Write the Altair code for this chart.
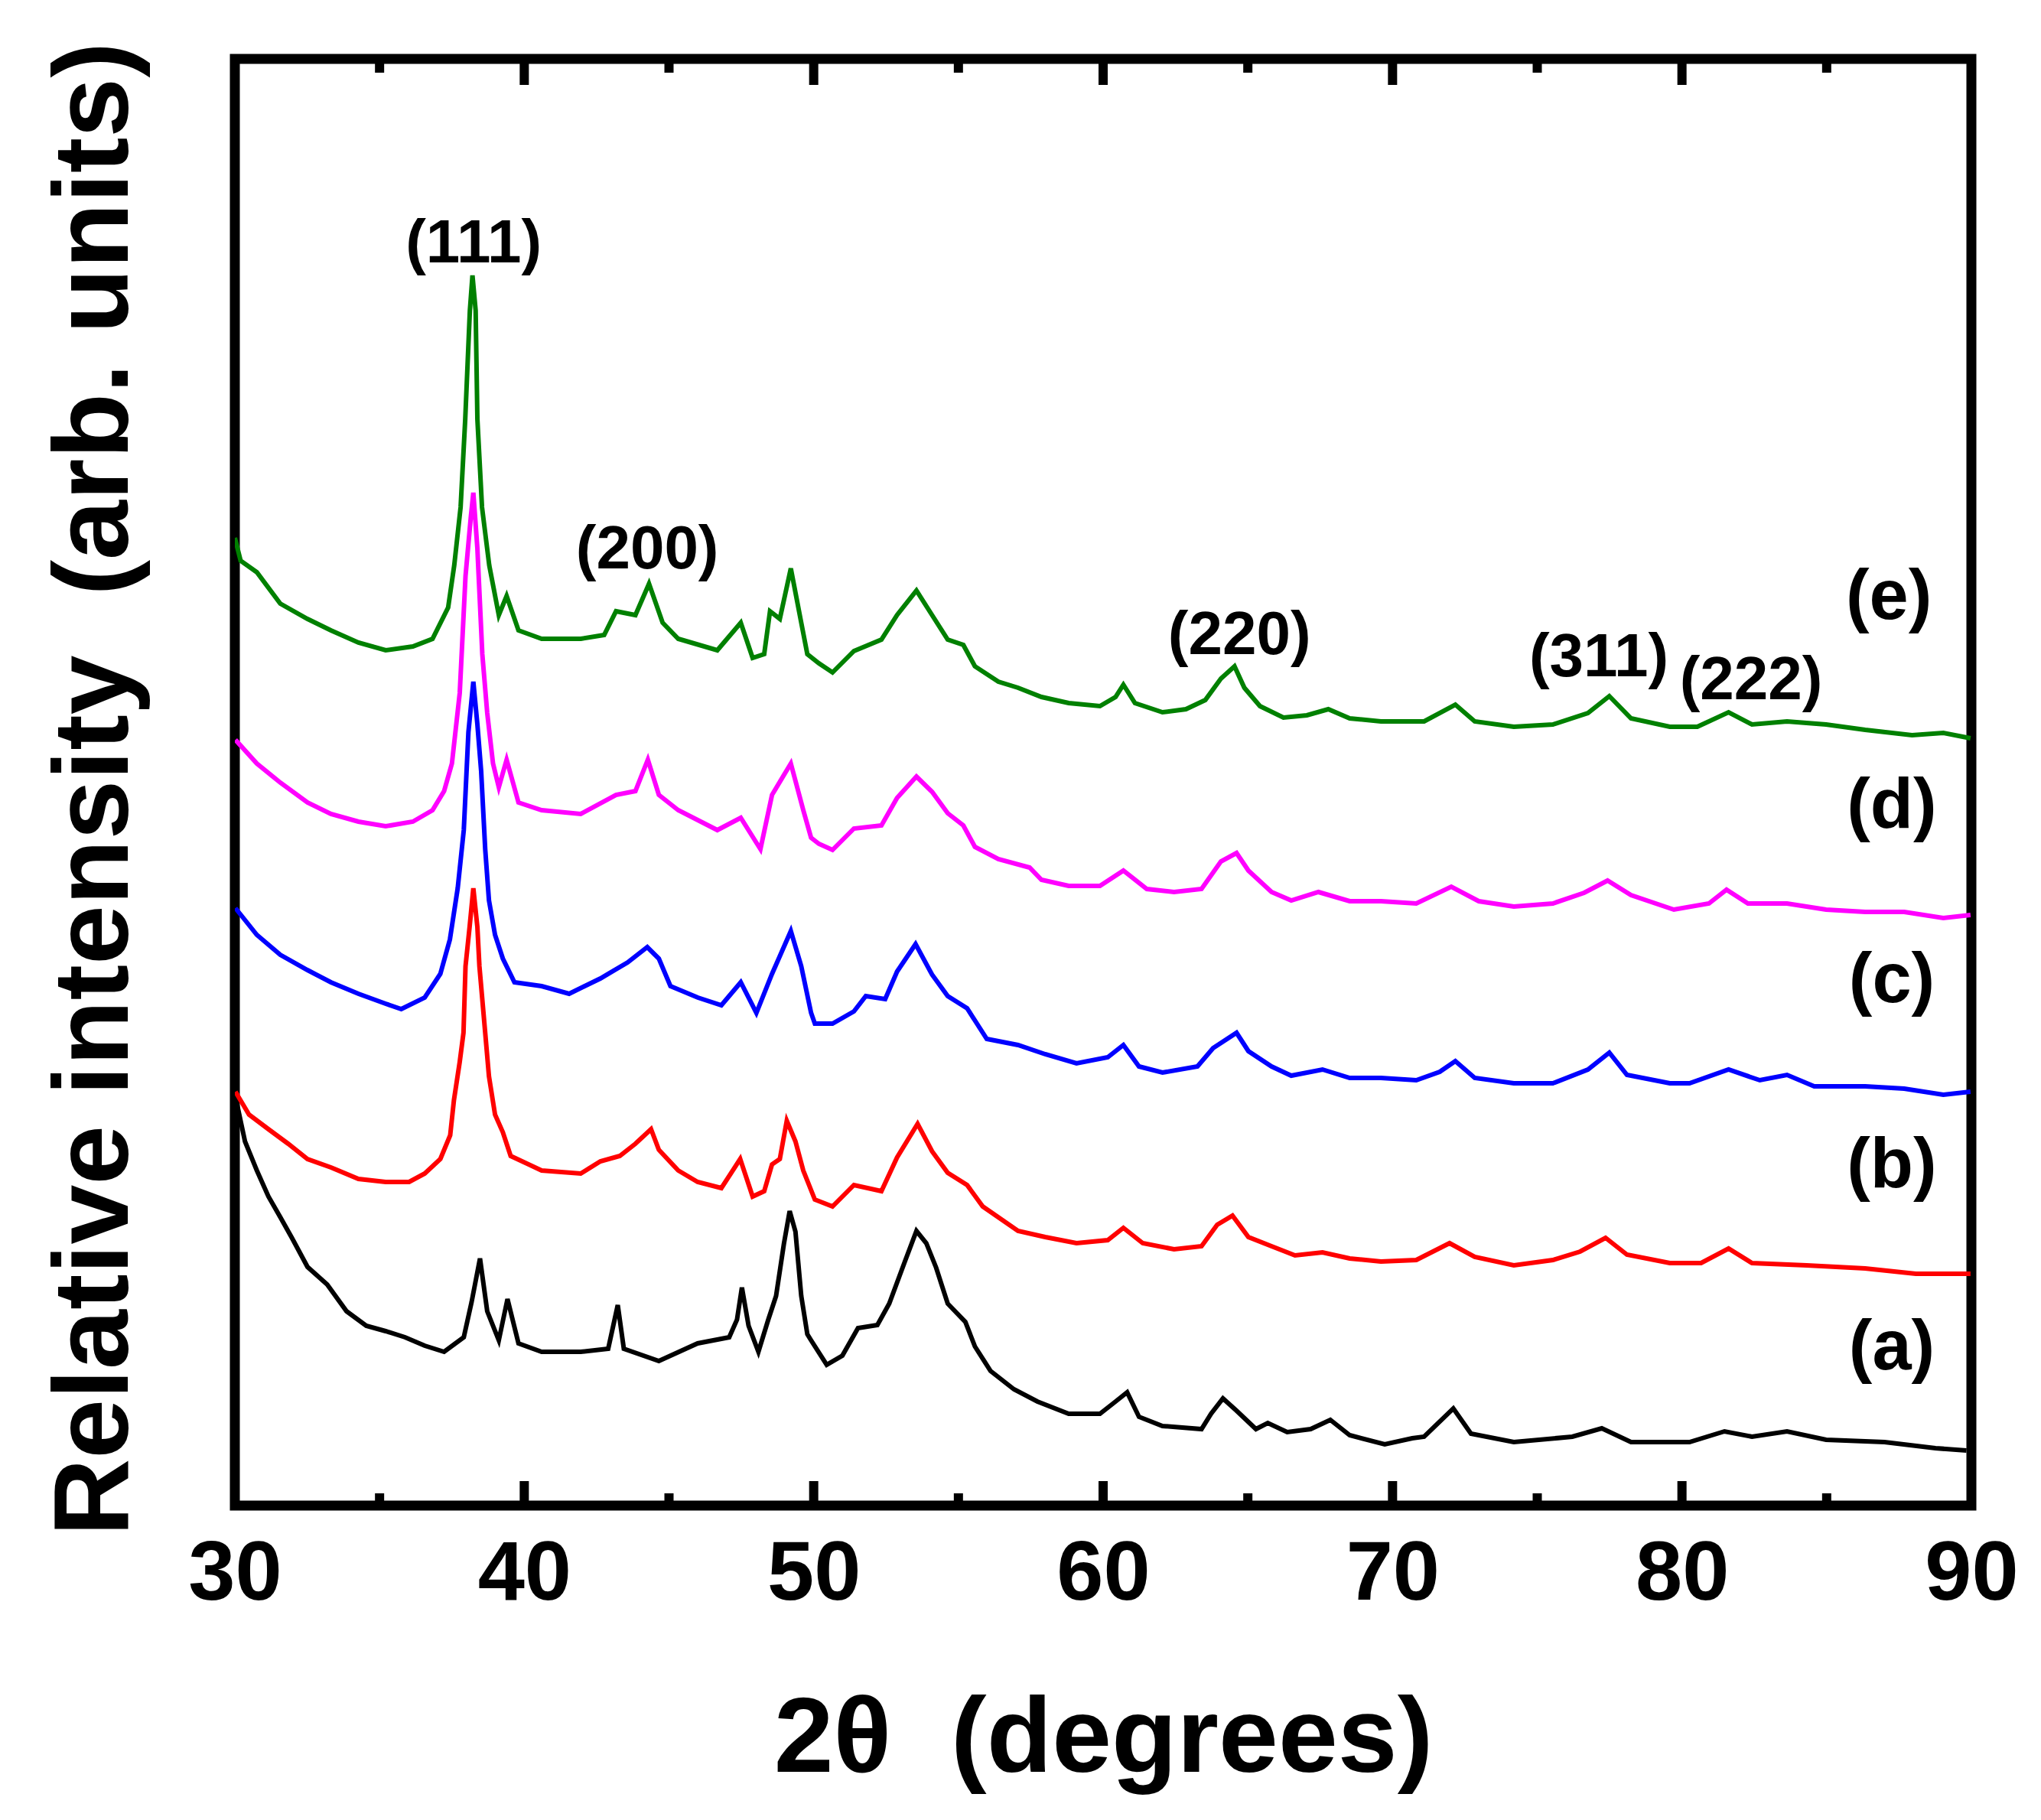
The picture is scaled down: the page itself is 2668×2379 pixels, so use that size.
import altair as alt
import pandas as pd

# ---- data (2theta in degrees, intensity in arb. units) ----
tt_a = [30.0, 30.35, 30.76, 31.16, 31.57, 31.97, 32.51, 33.19, 33.86, 34.54, 35.21, 35.88, 36.56, 37.23,
        37.91, 38.18, 38.47, 38.72, 39.12, 39.42, 39.8, 40.6, 41.95, 42.9, 43.23, 43.44, 44.65, 45.99,
        47.08, 47.35, 47.52, 47.75, 48.09, 48.43, 48.7, 48.97, 49.17, 49.37, 49.57, 49.78, 49.91, 50.45,
        50.99, 51.53, 52.2, 52.61, 53.15, 53.55, 53.89, 54.23, 54.63, 55.24, 55.57, 56.11, 56.92, 57.73,
        58.81, 59.89, 60.43, 60.83, 61.24, 62.05, 63.4, 63.73, 64.14, 64.61, 65.28, 65.69, 66.36, 67.17,
        67.85, 68.52, 69.73, 70.68, 71.09, 72.1, 72.71, 74.19, 76.21, 77.23, 78.24, 80.26, 81.47, 82.42,
        83.63, 84.98, 87.0, 88.76, 89.83]
in_a = [538, 476, 438, 404, 377, 350, 312, 289, 254, 235, 228, 220, 209, 201,
        220, 266, 323, 254, 216, 270, 212, 201, 201, 205, 262, 205, 189, 212,
        220, 243, 285, 235, 201, 243, 274, 342, 385, 358, 274, 224, 216, 184,
        196, 232, 236, 264, 319, 359, 343, 311, 264, 240, 208, 176, 152, 136,
        120, 120, 136, 148, 116, 104, 100, 120, 140, 124, 100, 108, 96, 100,
        112, 92, 80, 88, 90, 127, 94, 83, 90, 101, 83, 83, 97, 90,
        97, 86, 83, 75, 72]

tt_b = [30.02, 30.49, 31.16, 31.84, 32.51, 33.32, 34.27, 35.21, 36.02, 36.56, 37.1, 37.44, 37.57, 37.77,
        37.9, 37.97, 38.11, 38.24, 38.38, 38.45, 38.65, 38.78, 38.99, 39.26, 39.53, 40.6, 41.95, 42.63,
        43.3, 43.84, 44.38, 44.65, 45.32, 45.99, 46.81, 47.46, 47.89, 48.29, 48.56, 48.83, 49.07, 49.37,
        49.64, 50.04, 50.65, 51.39, 52.34, 52.88, 53.59, 54.09, 54.63, 55.3, 55.84, 57.06, 58.0, 59.08,
        60.16, 60.7, 61.37, 62.45, 63.4, 63.94, 64.47, 65.02, 65.82, 66.63, 67.58, 68.52, 69.6, 70.82,
        71.97, 72.84, 74.19, 75.54, 76.48, 77.36, 78.1, 79.58, 80.66, 81.61, 82.42, 84.31, 86.33, 88.08,
        89.97]
in_b = [541, 511, 492, 473, 453, 442, 427, 423, 423, 434, 453, 484, 530, 580,
        618, 705, 756, 807, 756, 705, 618, 561, 511, 488, 457, 438, 434, 450,
        457, 473, 492, 465, 438, 423, 415, 453, 404, 411, 446, 453, 503, 476,
        438, 400, 391, 419, 411, 455, 499, 463, 435, 419, 391, 359, 351, 343,
        347, 363, 343, 335, 339, 367, 379, 351, 339, 327, 331, 323, 319, 321,
        343, 325, 314, 321, 332, 350, 328, 317, 317, 336, 317, 314, 310, 303,
        303]

tt_c = [30.02, 30.76, 31.57, 32.51, 33.32, 34.27, 35.21, 35.75, 36.56, 37.1, 37.43, 37.7, 37.91, 38.07,
        38.24, 38.38, 38.51, 38.65, 38.78, 38.99, 39.26, 39.66, 40.6, 41.55, 42.63, 43.57, 44.25, 44.65,
        45.05, 46.0, 46.81, 47.48, 48.02, 48.56, 49.21, 49.57, 49.91, 50.04, 50.65, 51.39, 51.8, 52.47,
        52.88, 53.52, 54.09, 54.63, 55.3, 55.98, 57.06, 58.0, 59.08, 60.16, 60.7, 61.24, 62.05, 63.26,
        63.8, 64.61, 65.02, 65.82, 66.5, 67.58, 68.52, 69.6, 70.82, 71.63, 72.17, 72.84, 74.19, 75.54,
        76.75, 77.49, 78.1, 79.58, 80.26, 81.61, 82.69, 83.63, 84.57, 86.33, 87.68, 89.03, 89.97]
in_c = [781, 746, 720, 700, 684, 669, 656, 649, 664, 695, 740, 807, 883, 1011,
        1077, 1021, 960, 858, 791, 746, 715, 684, 679, 669, 689, 710, 730, 715,
        679, 664, 654, 684, 644, 695, 751, 705, 644, 630, 630, 646, 666, 662,
        698, 734, 694, 666, 650, 610, 602, 590, 578, 586, 602, 574, 566, 574,
        598, 618, 594, 574, 562, 570, 559, 559, 556, 567, 581, 559, 552, 552,
        570, 592, 563, 552, 552, 570, 556, 563, 548, 548, 545, 537, 541]

tt_d = [30.02, 30.76, 31.57, 32.51, 33.32, 34.27, 35.21, 36.15, 36.83, 37.23, 37.5, 37.77, 37.97, 38.15,
        38.24, 38.38, 38.55, 38.72, 38.92, 39.12, 39.39, 39.8, 40.6, 41.95, 43.17, 43.84, 44.27, 44.65,
        45.32, 46.67, 47.48, 48.16, 48.56, 49.21, 49.64, 49.91, 50.18, 50.65, 51.39, 52.34, 52.88, 53.55,
        54.09, 54.63, 55.17, 55.57, 56.38, 57.46, 57.87, 58.81, 59.89, 60.7, 61.51, 62.45, 63.4, 64.07,
        64.61, 65.02, 65.82, 66.5, 67.44, 68.52, 69.6, 70.82, 72.03, 72.98, 74.19, 75.54, 76.62, 77.43,
        78.24, 79.72, 80.93, 81.54, 82.28, 83.63, 84.98, 86.33, 87.68, 89.03, 89.97]
in_d = [1001, 970, 945, 919, 904, 894, 888, 894, 909, 934, 970, 1062, 1215, 1291,
        1324, 1251, 1113, 1036, 970, 939, 975, 919, 909, 904, 929, 934, 975, 929,
        909, 883, 899, 858, 929, 970, 909, 873, 865, 857, 885, 889, 925, 953,
        933, 905, 889, 861, 845, 834, 818, 810, 810, 830, 806, 802, 806, 842,
        853, 830, 802, 791, 802, 790, 790, 787, 809, 790, 783, 787, 801, 817,
        798, 779, 787, 805, 787, 787, 779, 776, 776, 768, 772]

tt_e = [30.0, 30.2, 30.76, 31.57, 32.51, 33.32, 34.27, 35.21, 36.15, 36.83, 37.37, 37.58, 37.8, 37.96,
        38.12, 38.21, 38.32, 38.38, 38.54, 38.79, 39.12, 39.39, 39.8, 40.6, 41.95, 42.76, 43.17, 43.84,
        44.31, 44.78, 45.32, 46.67, 47.48, 47.89, 48.29, 48.49, 48.83, 49.21, 49.57, 49.78, 50.18, 50.65,
        51.39, 52.34, 52.88, 53.55, 54.09, 54.63, 55.17, 55.57, 56.38, 57.06, 57.87, 58.81, 59.89, 60.43,
        60.7, 61.1, 62.05, 62.86, 63.53, 64.07, 64.54, 64.88, 65.42, 66.23, 67.04, 67.78, 68.52, 69.6,
        71.09, 72.17, 72.84, 74.19, 75.54, 76.75, 77.49, 78.24, 79.58, 80.53, 81.61, 82.42, 83.63, 84.98,
        86.33, 87.95, 89.03, 89.97]
in_e = [1265, 1235, 1220, 1179, 1159, 1144, 1128, 1118, 1123, 1133, 1174, 1229, 1305, 1420,
        1562, 1608, 1562, 1420, 1305, 1229, 1164, 1189, 1144, 1133, 1133, 1138, 1169, 1164,
        1205, 1154, 1133, 1118, 1154, 1108, 1113, 1169, 1159, 1225, 1154, 1113, 1101, 1089,
        1117, 1132, 1164, 1196, 1164, 1132, 1125, 1097, 1077, 1069, 1057, 1049, 1045, 1057,
        1073, 1049, 1037, 1041, 1053, 1081, 1097, 1069, 1045, 1030, 1033, 1041, 1029, 1025,
        1025, 1047, 1025, 1018, 1021, 1036, 1058, 1029, 1018, 1018, 1037, 1021, 1025, 1021,
        1014, 1007, 1010, 1003]

series_names = ["(a)", "(b)", "(c)", "(d)", "(e)"]
series_colors = ["#000000", "#ff0000", "#0000ff", "#ff00ff", "#008000"]

hkl_text = ["(111)", "(200)", "(220)", "(311)", "(222)"]
hkl_tt = [38.25, 44.25, 64.71, 77.13, 82.39]
hkl_in = [1625, 1225, 1113, 1084, 1054]

tag_tt = [87.25, 87.25, 87.25, 87.25, 87.15]
tag_in = [178, 416, 658, 886, 1159]

x_major = [30, 40, 50, 60, 70, 80, 90]
x_minor = [35, 45, 55, 65, 75, 85]

# ---- build tables ----
rows = []
for name, tt, yy in zip(series_names, [tt_a, tt_b, tt_c, tt_d, tt_e], [in_a, in_b, in_c, in_d, in_e]):
    for t, v in zip(tt, yy):
        rows.append({"tt": t, "I": v, "sample": name})
df = pd.DataFrame(rows)
df_hkl = pd.DataFrame({"tt": hkl_tt, "I": hkl_in, "label": hkl_text})
df_tag = pd.DataFrame({"tt": tag_tt, "I": tag_in, "label": series_names})
df_major = pd.DataFrame({"tt": x_major})
df_minor = pd.DataFrame({"tt": x_minor})

W, H = 2270, 1891
FONT = "Liberation Sans"

xscale = alt.Scale(domain=[30, 90], nice=False, zero=False)
yscale = alt.Scale(domain=[0, 1891], nice=False, zero=False)

x_axis = alt.Axis(
    values=x_major, format="d", grid=False, domain=False, ticks=False, tickSize=0,
    labelFont=FONT, labelFontSize=110, labelFontWeight="bold", labelColor="black",
    labelPadding=122, labelBaseline="alphabetic", labelFlush=False, labelOverlap=False,
    title="2\u03b8\u00a0 (degrees)", titleFont=FONT, titleFontSize=140, titleFontWeight="bold",
    titleColor="black", titleX=W / 2, titleY=347, titleBaseline="alphabetic", titleAlign="center",
)
y_axis = alt.Axis(
    labels=False, ticks=False, domain=False, grid=False, tickSize=0,
    title="Relative intensity\u00a0 (arb. units)", titleFont=FONT, titleFontSize=140,
    titleFontWeight="bold", titleColor="black", titleAngle=270, titleX=-141, titleY=954,
    titleBaseline="alphabetic", titleAlign="center",
)

lines = alt.Chart(df).mark_line(strokeWidth=6, clip=True).encode(
    x=alt.X("tt:Q", scale=xscale, axis=x_axis),
    y=alt.Y("I:Q", scale=yscale, axis=y_axis),
    color=alt.Color("sample:N", scale=alt.Scale(domain=series_names, range=series_colors), legend=None),
    detail="sample:N",
)

hkl = alt.Chart(df_hkl).mark_text(
    font=FONT, fontSize=80, fontWeight="bold", color="black", align="center", baseline="alphabetic"
).encode(x=alt.X("tt:Q", scale=xscale), y=alt.Y("I:Q", scale=yscale), text="label:N")

tags = alt.Chart(df_tag).mark_text(
    font=FONT, fontSize=92, fontWeight="bold", color="black", align="center", baseline="alphabetic"
).encode(x=alt.X("tt:Q", scale=xscale), y=alt.Y("I:Q", scale=yscale), text="label:N")

tick_major_bottom = alt.Chart(df_major).mark_rule(color="black", strokeWidth=12).encode(
    x=alt.X("tt:Q", scale=xscale), y=alt.value(H), y2=alt.value(H - 32))
tick_minor_bottom = alt.Chart(df_minor).mark_rule(color="black", strokeWidth=12).encode(
    x=alt.X("tt:Q", scale=xscale), y=alt.value(H), y2=alt.value(H - 16))
tick_major_top = alt.Chart(df_major).mark_rule(color="black", strokeWidth=12).encode(
    x=alt.X("tt:Q", scale=xscale), y=alt.value(0), y2=alt.value(34))
tick_minor_top = alt.Chart(df_minor).mark_rule(color="black", strokeWidth=12).encode(
    x=alt.X("tt:Q", scale=xscale), y=alt.value(0), y2=alt.value(18))

chart = alt.layer(
    lines, hkl, tags, tick_major_bottom, tick_minor_bottom, tick_major_top, tick_minor_top
).properties(
    width=W, height=H,
    autosize=alt.AutoSizeParams(type="none"),
    padding={"left": 299, "top": 69, "right": 83, "bottom": 403},
    background="white",
).configure_view(stroke="black", strokeWidth=13)

chart.save("out.html", embed_options={"renderer": "svg", "actions": False})
